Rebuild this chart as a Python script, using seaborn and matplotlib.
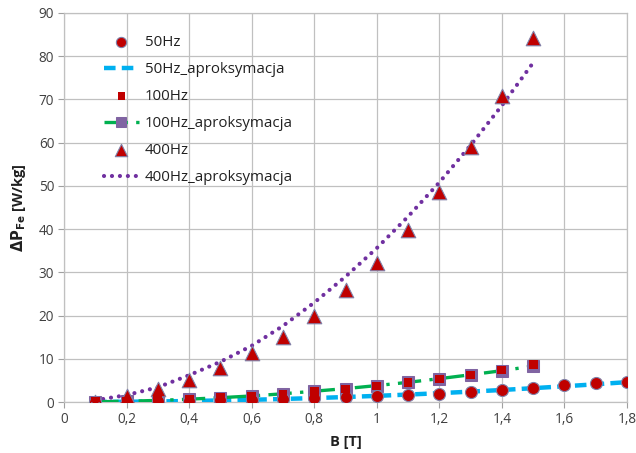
import matplotlib
matplotlib.use("Agg")
import matplotlib.pyplot as plt
import seaborn as sns
import pandas as pd

# Measured iron losses vs flux density
b_50 = [0.1, 0.2, 0.3, 0.4, 0.5, 0.6, 0.7, 0.8, 0.9, 1.0, 1.1, 1.2, 1.3, 1.4, 1.5, 1.6, 1.7, 1.8]
p_50 = [0.02, 0.07, 0.15, 0.25, 0.4, 0.55, 0.7, 0.9, 1.1, 1.4, 1.6, 1.85, 2.3, 2.8, 3.3, 3.9, 4.3, 4.7]
p_50_fit = [0.014, 0.057, 0.13, 0.23, 0.36, 0.51, 0.70, 0.91, 1.15, 1.42, 1.72, 2.04, 2.40, 2.78, 3.2, 3.64, 4.1, 4.6]

b_100 = [0.1, 0.2, 0.3, 0.4, 0.5, 0.6, 0.7, 0.8, 0.9, 1.0, 1.1, 1.2, 1.3, 1.4, 1.5]
p_100 = [0.05, 0.2, 0.45, 0.6, 1.0, 1.2, 1.85, 2.4, 3.0, 3.7, 4.5, 5.3, 6.25, 7.4, 8.7]
p_100_fit = [0.045, 0.17, 0.37, 0.65, 1.0, 1.4, 1.9, 2.5, 3.1, 3.8, 4.55, 5.4, 6.3, 7.25, 8.3]

b_400 = [0.1, 0.2, 0.3, 0.4, 0.5, 0.6, 0.7, 0.8, 0.9, 1.0, 1.1, 1.2, 1.3, 1.4, 1.5]
p_400 = [0.1, 1.5, 2.9, 5.1, 7.8, 11.3, 15.1, 19.9, 25.9, 32.2, 39.7, 48.5, 58.9, 70.7, 84.3]
p_400_fit = [0.4, 1.6, 3.4, 6.2, 9.3, 13.0, 17.6, 23.0, 29.0, 35.6, 42.9, 50.8, 59.4, 68.6, 78.5]

x_ticks = [0, 0.2, 0.4, 0.6, 0.8, 1.0, 1.2, 1.4, 1.6, 1.8]
x_tick_labels = ["0", "0,2", "0,4", "0,6", "0,8", "1", "1,2", "1,4", "1,6", "1,8"]
y_ticks = [0, 10, 20, 30, 40, 50, 60, 70, 80, 90]

sns.set_style("whitegrid")
plt.rcParams["font.family"] = ["Open Sans", "DejaVu Sans"]

RED = "#C00000"
EDGE = "#8080A8"
CYAN = "#00B0F0"
GREEN = "#00B050"
PURPLE = "#7030A0"

fig = plt.figure(figsize=(6.36, 4.53), dpi=100)
ax = fig.add_axes([64 / 636, 51 / 453, 563 / 636, 389 / 453])

d50 = pd.DataFrame({"B": b_50, "P": p_50, "fit": p_50_fit})
d100 = pd.DataFrame({"B": b_100, "P": p_100, "fit": p_100_fit})
d400 = pd.DataFrame({"B": b_400, "P": p_400, "fit": p_400_fit})

# 50 Hz
sns.lineplot(data=d50, x="B", y="fit", ax=ax, color=CYAN, lw=3.2,
             dashes=False, linestyle=(0, (2.6, 1.4)), label="50Hz_aproksymacja", zorder=3)
sns.scatterplot(data=d50, x="B", y="P", ax=ax, color=RED, marker="o", s=75,
                edgecolor=EDGE, linewidth=0.8, label="50Hz", zorder=5)

# 100 Hz
sns.lineplot(data=d100, x="B", y="fit", ax=ax, color=GREEN, lw=2.4,
             linestyle=(0, (7, 2.5, 1, 2.5)), marker="s", markersize=8,
             markerfacecolor="#8064A2", markeredgecolor="#8064A2",
             label="100Hz_aproksymacja", zorder=4)
sns.scatterplot(data=d100, x="B", y="P", ax=ax, color=RED, marker="s", s=40,
                edgecolor="none", linewidth=0, label="100Hz", zorder=6)

# 400 Hz
sns.lineplot(data=d400, x="B", y="fit", ax=ax, color=PURPLE, lw=3.0,
             linestyle=(0, (0.01, 1.9)), dash_capstyle="round",
             label="400Hz_aproksymacja", zorder=3)
sns.scatterplot(data=d400, x="B", y="P", ax=ax, color=RED, marker="^", s=110,
                edgecolor=EDGE, linewidth=0.8, label="400Hz", zorder=5)

ax.set_xlim(0, 1.8)
ax.set_ylim(0, 90)
ax.set_xticks(x_ticks)
ax.set_xticklabels(x_tick_labels)
ax.set_yticks(y_ticks)
ax.tick_params(axis="both", labelsize=9.8, colors="#A0A0A0", labelcolor="#404040",
               length=4, width=0.8, direction="out", bottom=True, left=True, pad=3)
ax.grid(True, color="#C0C0C0", lw=0.9)
for s in ax.spines.values():
    s.set_color("#C0C0C0")
    s.set_linewidth(0.9)

ax.set_xlabel("B [T]", fontsize=10.5, fontweight="bold", color="#202020", labelpad=6)
ax.set_ylabel(r"$\mathbf{\Delta P_{Fe}}$ [W/kg]", fontsize=10.5, fontweight="bold",
              color="#202020", labelpad=8)

handles, labels = ax.get_legend_handles_labels()
order = ["50Hz", "50Hz_aproksymacja", "100Hz", "100Hz_aproksymacja", "400Hz", "400Hz_aproksymacja"]
hmap = dict(zip(labels, handles))
leg = ax.legend([hmap[k] for k in order], order, loc="upper left",
                bbox_to_anchor=(98 / 636, 1 - 29 / 453), bbox_transform=fig.transFigure,
                frameon=False, fontsize=10.8, labelspacing=0.8, handlelength=2.3,
                handletextpad=0.4, borderaxespad=0, markerscale=0.85)
for t in leg.get_texts():
    t.set_color("#202020")

fig.savefig("out.png", dpi=100)
